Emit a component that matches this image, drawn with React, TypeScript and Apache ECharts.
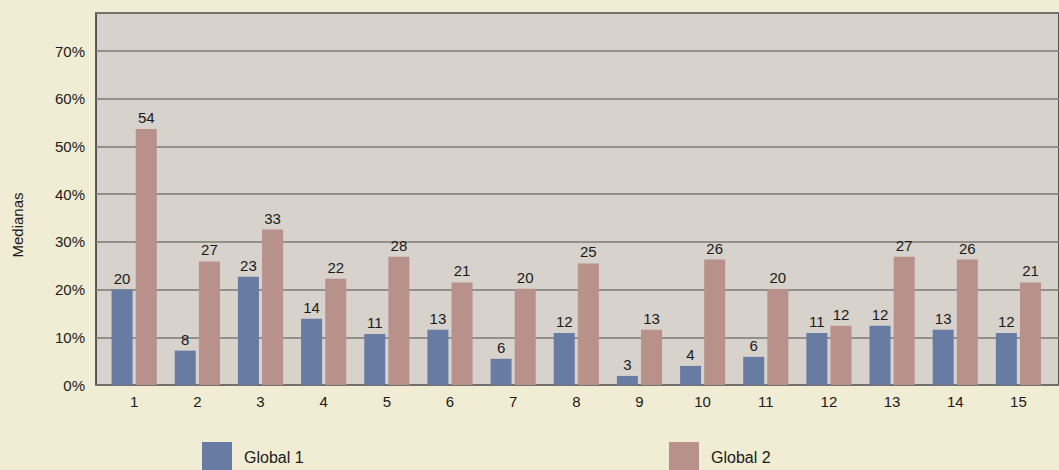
import React, { useEffect, useRef } from "react";
import * as echarts from "echarts";

const categories = ["1", "2", "3", "4", "5", "6", "7", "8", "9", "10", "11", "12", "13", "14", "15"];
// bar heights as drawn (%)
const global1Values = [20.0, 7.2, 22.7, 13.9, 10.7, 11.6, 5.5, 10.9, 1.9, 4.0, 5.9, 10.9, 12.4, 11.6, 10.9];
const global2Values = [53.7, 25.9, 32.6, 22.3, 26.9, 21.5, 20.2, 25.5, 11.6, 26.3, 20.1, 12.4, 26.9, 26.3, 21.5];
// labels printed above the bars
const global1Labels = [20, 8, 23, 14, 11, 13, 6, 12, 3, 4, 6, 11, 12, 13, 12];
const global2Labels = [54, 27, 33, 22, 28, 21, 20, 25, 13, 26, 20, 12, 27, 26, 21];
const yTicks = [0, 10, 20, 30, 40, 50, 60, 70];

const FONT = '"Liberation Sans", Arial, Helvetica, sans-serif';

export default function App() {
  const ref = useRef<HTMLDivElement>(null);
  useEffect(() => {
    if (!ref.current) return;
    const chart = echarts.init(ref.current, undefined, { renderer: "svg" });
    const labelStyle = (labels: number[]) => ({
      show: true,
      position: "top" as const,
      distance: 4,
      color: "#1a1a1a",
      fontSize: 15,
      fontFamily: FONT,
      formatter: (p: any) => String(labels[p.dataIndex]),
    });
    chart.setOption({
      animation: false,
      backgroundColor: "#f1ecd4",
      textStyle: { fontFamily: FONT },
      grid: [
        {
          left: 96,
          right: -5,
          top: 13,
          bottom: 85,
          show: true,
          backgroundColor: "#d7d2cb",
          borderColor: "#2a2a2a",
          borderWidth: 1.5,
        },
        { left: 102.6, right: 9, top: 13, bottom: 85 },
      ],
      xAxis: [
        { type: "value", gridIndex: 0, min: 0, max: 1, show: false },
        {
          type: "category",
          gridIndex: 1,
          data: categories,
          axisLine: { show: false },
          axisTick: { show: false },
          axisLabel: { color: "#1a1a1a", fontSize: 15, fontFamily: FONT, margin: 9 },
        },
      ],
      yAxis: [
        {
          type: "value",
          gridIndex: 0,
          min: 0,
          max: 78,
          interval: 10,
          axisLine: { show: false },
          axisTick: { show: false },
          axisLabel: {
            color: "#1a1a1a",
            fontSize: 15,
            fontFamily: FONT,
            margin: 11,
            formatter: (v: number) => (yTicks.includes(v) ? `${v}%` : ""),
          },
          splitLine: { show: true, lineStyle: { color: "#7c7a76", width: 1.5 } },
        },
        { type: "value", gridIndex: 1, min: 0, max: 78, show: false },
      ],
      legend: [
        {
          data: ["Global 1"],
          left: 202,
          top: 442,
          padding: 0,
          itemWidth: 30,
          itemHeight: 30,
          icon: "rect",
          textStyle: { color: "#1a1a1a", fontSize: 16, fontFamily: FONT, padding: [0, 0, 0, 7] },
        },
        {
          data: ["Global 2"],
          left: 669,
          top: 442,
          padding: 0,
          itemWidth: 30,
          itemHeight: 30,
          icon: "rect",
          textStyle: { color: "#1a1a1a", fontSize: 16, fontFamily: FONT, padding: [0, 0, 0, 7] },
        },
      ],
      graphic: [
        {
          type: "text",
          x: 17,
          y: 225,
          rotation: Math.PI / 2,
          style: {
            text: "Medianas",
            fill: "#1a1a1a",
            fontSize: 15,
            fontFamily: FONT,
            textAlign: "center",
            textVerticalAlign: "middle",
          },
        },
      ],
      series: [
        {
          name: "Global 1",
          type: "bar",
          xAxisIndex: 1,
          yAxisIndex: 1,
          data: global1Values,
          barWidth: 21,
          barGap: "15%",
          itemStyle: { color: "#687ca3" },
          label: labelStyle(global1Labels),
        },
        {
          name: "Global 2",
          type: "bar",
          xAxisIndex: 1,
          yAxisIndex: 1,
          data: global2Values,
          barWidth: 21,
          barGap: "15%",
          itemStyle: { color: "#b8918b" },
          label: labelStyle(global2Labels),
        },
      ],
    });
    return () => chart.dispose();
  }, []);
  return (
    <div
      ref={ref}
      style={{ position: "absolute", left: 0, top: 0, width: 1059, height: 470 }}
    />
  );
}
